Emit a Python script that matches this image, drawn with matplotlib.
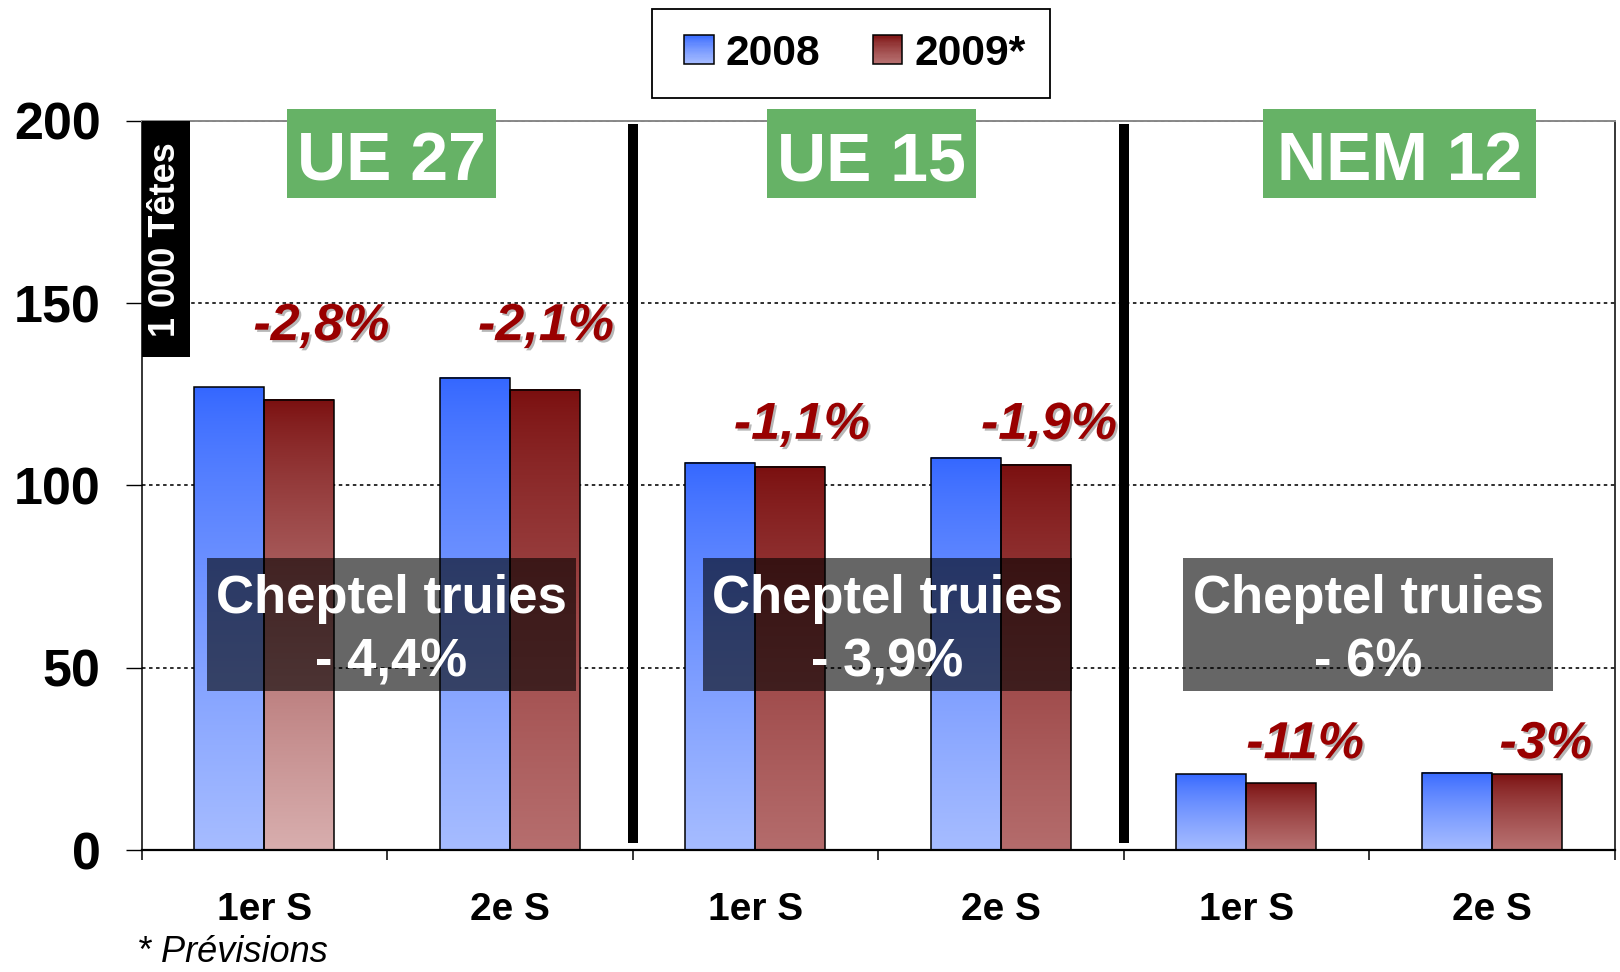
import numpy as np
import matplotlib
matplotlib.use("Agg")
import matplotlib.pyplot as plt
import matplotlib.patheffects as pe
from matplotlib.patches import Rectangle, Patch
from matplotlib.legend_handler import HandlerBase
from matplotlib.colors import to_rgb

# ---------------- data ----------------
categories = ['1er S', '2e S', '1er S', '2e S', '1er S', '2e S']
groups = ['UE 27', 'UE 15', 'NEM 12']
series_names = ['2008', '2009*']
v2008 = [126.9, 129.5, 106.2, 107.6, 20.8, 21.2]
v2009 = [123.5, 126.3, 105.1, 105.7, 18.3, 20.8]
pct_labels = ['-2,8%', '-2,1%', '-1,1%', '-1,9%', '-11%', '-3%']
total_title = 'Cheptel truies'
total_labels = ['- 4,4%', '- 3,9%', '- 6%']
y_ticks = [0, 50, 100, 150, 200]
unit_label = '1 000 Têtes'
footnote = '* Prévisions'

# ---------------- layout / style ----------------
FONT = ['Liberation Sans', 'DejaVu Sans']
plt.rcParams['font.family'] = FONT

W, H = 1620, 972
fig = plt.figure(figsize=(W / 100, H / 100), dpi=100)
ax = fig.add_axes([141.5 / W, (H - 850) / H, (1614.5 - 141.5) / W, 729 / H])
ax.set_xlim(-0.5, 5.5)
ax.set_ylim(0, 200)

blue_top, blue_bot = '#3366FF', '#A6BCFF'
red_top = '#7A0E0E'
red_bots = ['#D8AEAE', '#B66E6E', '#B46C6C', '#B46C6C', '#B87272', '#B87272']
bw = 0.285
x = np.arange(len(categories))
GAMMA = 0.75


def grad_array(c_top, c_bot, n=256):
    t = np.linspace(0, 1, n)[:, None] ** GAMMA
    a = np.array(to_rgb(c_top))
    b = np.array(to_rgb(c_bot))
    return (a * (1 - t) + b * t).reshape(n, 1, 3)


def grad_bars(bars, tops, bots):
    for p, ct, cb in zip(bars, tops, bots):
        x0, y0 = p.get_x(), p.get_y()
        w, h = p.get_width(), p.get_height()
        ax.imshow(grad_array(ct, cb), extent=[x0, x0 + w, y0, y0 + h],
                  origin='upper', aspect='auto', zorder=2, interpolation='bilinear')


b1 = ax.bar(x - bw / 2, v2008, bw, facecolor='none', edgecolor='black',
            linewidth=1.1, zorder=3)
b2 = ax.bar(x + bw / 2, v2009, bw, facecolor='none', edgecolor='black',
            linewidth=1.1, zorder=3)
grad_bars(b1, [blue_top] * 6, [blue_bot] * 6)
grad_bars(b2, [red_top] * 6, red_bots)
ax.set_xlim(-0.5, 5.5)
ax.set_ylim(0, 200)
ax.set_aspect('auto')

# grid
ax.set_axisbelow(True)
ax.set_yticks(y_ticks)
ax.yaxis.grid(True, color='black', linestyle=(0, (2.2, 2.2)), linewidth=1.15)

# spines
ax.spines['left'].set_linewidth(1.1)
ax.spines['bottom'].set_linewidth(1.6)
ax.spines['right'].set_linewidth(1.1)
ax.spines['top'].set_color('#888888')
ax.spines['top'].set_linewidth(1.4)

# y ticks
ax.tick_params(axis='y', direction='out', length=11.5, width=1.0, pad=18,
               labelsize=37.5)
for lab in ax.get_yticklabels():
    lab.set_fontweight('bold')

# x ticks: boundaries as major ticks, labels at centres as minor ticks
ax.set_xticks(np.arange(-0.5, 6, 1.0))
ax.set_xticklabels([])
ax.tick_params(axis='x', which='major', direction='out', length=7.5, width=1.1)
ax.set_xticks(x, minor=True)
ax.set_xticklabels(categories, minor=True, fontsize=28, fontweight='bold')
ax.tick_params(axis='x', which='minor', length=0, pad=30)

# separators
ax.vlines([1.5, 3.5], 2, 199.3, colors='black', linewidth=7.2, zorder=4,
          capstyle='butt')

# group header boxes
hdr_boxes = [(0.092, 0.853), (2.047, 0.851), (4.068, 1.112)]
for (gx, gw), g in zip(hdr_boxes, groups):
    ax.add_patch(Rectangle((gx, 179.0), gw, 24.3, facecolor='#66B266',
                           edgecolor='none', zorder=5, clip_on=False))
    ax.text(gx + gw / 2, 183.8, g, ha='center', va='baseline', color='white',
            fontsize=49, fontweight='bold', zorder=6, clip_on=False)

# unit label box
ax.add_patch(Rectangle((-0.5, 135.3), 0.1976, 64.7, facecolor='black',
                       edgecolor='none', zorder=5, clip_on=False))
ax.text(-0.402, 167.5, unit_label, rotation=90, ha='center', va='center',
        color='white', fontsize=26, fontweight='bold', zorder=6)

# total boxes
tot_boxes = [-0.234, 1.786, 3.744]
tw = 1.504
for tx, tl in zip(tot_boxes, total_labels):
    ax.add_patch(Rectangle((tx, 43.7), tw, 36.3, facecolor='black', alpha=0.6,
                           edgecolor='none', zorder=7))
    ax.text(tx + tw / 2, 65.1, total_title, ha='center', va='baseline',
            color='white', fontsize=38, fontweight='bold', zorder=8)
    ax.text(tx + tw / 2, 47.5, tl, ha='center', va='baseline',
            color='white', fontsize=38, fontweight='bold', zorder=8)

# percentage change labels
pct_x = [0.233, 1.148, 2.19, 3.197, 4.24, 5.22]
pct_y = [139.9, 139.9, 112.8, 112.8, 25.2, 25.2]
shadow = [pe.SimplePatchShadow(offset=(1.6, -1.6), shadow_rgbFace='#999999',
                               alpha=0.7), pe.Normal()]
for px_, py_, t in zip(pct_x, pct_y, pct_labels):
    ax.text(px_, py_, t, ha='center', va='baseline', color='#990000',
            fontsize=37.5, fontweight='bold', fontstyle='italic', zorder=9,
            path_effects=shadow)


# legend with gradient patches
class GradHandler(HandlerBase):
    def __init__(self, c_top, c_bot, offset_px=8, n=24):
        super().__init__()
        self.c_top, self.c_bot, self.off, self.n = c_top, c_bot, offset_px, n

    def create_artists(self, legend, orig_handle, xdescent, ydescent, width,
                       height, fontsize, trans):
        off = self.off * 72 / 100
        x0 = -xdescent + off
        w = width - off
        y0 = -ydescent
        a = np.array(to_rgb(self.c_top))
        b = np.array(to_rgb(self.c_bot))
        arts = []
        for i in range(self.n):
            t = ((i + 0.5) / self.n) ** GAMMA
            col = a * (1 - t) + b * t
            yy = y0 + height * (1 - (i + 1) / self.n)
            arts.append(Rectangle((x0, yy), w, height / self.n + 0.2,
                                  facecolor=col, edgecolor='none',
                                  transform=trans))
        arts.append(Rectangle((x0, y0), w, height, facecolor='none',
                              edgecolor='black', linewidth=1.1,
                              transform=trans))
        return arts


h1 = Patch(label=series_names[0])
h2 = Patch(label=series_names[1])
leg = fig.legend(handles=[h1, h2],
                 handler_map={h1: GradHandler(blue_top, blue_bot),
                              h2: GradHandler(red_top, '#B87272')},
                 loc='upper left', bbox_to_anchor=(651.7 / W, 1 - 9.0 / H),
                 borderaxespad=0, ncol=2, fancybox=False, framealpha=1,
                 edgecolor='black', handlelength=0.88, handleheight=0.66,
                 handletextpad=0.28, columnspacing=1.05, borderpad=0.58,
                 prop={'family': FONT, 'weight': 'bold', 'size': 30.6})
leg.get_frame().set_linewidth(1.3)

fig.text(137 / W, (H - 962) / H, footnote, fontsize=26, fontstyle='italic',
         va='baseline', ha='left')

fig.savefig('out.png', dpi=100)
